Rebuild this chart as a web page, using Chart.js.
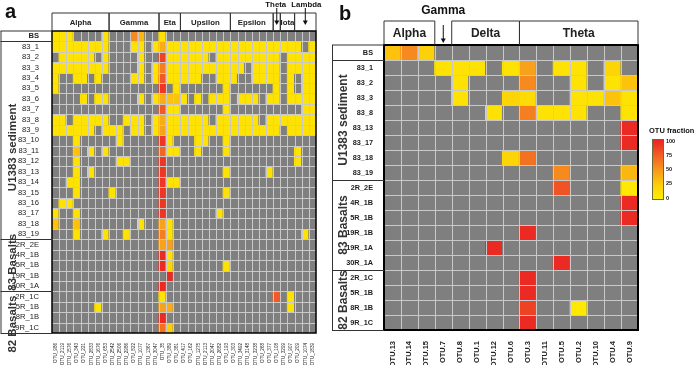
<!DOCTYPE html>
<html><head><meta charset="utf-8">
<script src="https://cdn.jsdelivr.net/npm/chart.js@4/dist/chart.umd.min.js"></script>
<style>
html,body{margin:0;padding:0;background:#fff;width:696px;height:365px;overflow:hidden;}
canvas{position:absolute;left:0;top:0;}
</style></head><body>
<canvas id="ca" width="696" height="365"></canvas>
<canvas id="cb" width="696" height="365"></canvas>
<script>
const _ = null;

// ---------- Panel a ----------
const otuA = ['OTU_986','OTU_2119','OTU_1576','OTU_343','OTU_221','OTU_2833','OTU_1676','OTU_653','OTU_2542','OTU_2506','OTU_2986','OTU_822','OTU_1077','OTU_1367','OTU_3047','OTU_35','OTU_389','OTU_381','OTU_417','OTU_162','OTU_1275','OTU_2113','OTU_2047','OTU_2682','OTU_193','OTU_303','OTU_3492','OTU_3148','OTU_3238','OTU_268','OTU_377','OTU_108','OTU_3299','OTU_907','OTU_209','OTU_1074','OTU_1839'];
const samplesA = ['BS','83_1','83_2','83_3','83_4','83_5','83_6','83_7','83_8','83_9','83_10','83_11','83_12','83_13','83_14','83_15','83_16','83_17','83_18','83_19','2R_2E','4R_1B','5R_1B','19R_1B','30R_1A','2R_1C','5R_1B','8R_1B','9R_1C'];
const cladesA = ['Alpha','Gamma','Eta','Upsilon','Epsilon','Theta','Iota','Lambda'];
const cladeSizesA = [8,7,3,7,6,1,2,3];
const cladeTextA = [true,true,true,true,true,false,true,false];
const arrowCladesA = ['Theta','Lambda'];
const siteGroupsA = ['','U1383 sediment','83 Basalts','82 Basalts'];
const siteSizesA = [1,19,5,4];

const a_BS   = [10,10,10,_,_,_,_,10, _,_,_,55,35,_,_, 10,_,_, _,_,_,_,_,_,_, _,_,_,_,_,_, _, _,_, _,_,_];
const a_83_1 = [10,10,10,10,10,10,10,10, _,_,_,10,10,_,10, 40,10,10, 10,10,10,10,10,10,10, 10,10,10,10,10,10, 10, 10,10, 10,_,10];
const a_83_2 = [_,10,10,10,10,10,_,10, _,_,_,_,10,_,_, 85,10,10, 10,10,10,10,_,10,10, 10,10,10,10,10,10, 10, _,10, 10,10,10];
const a_83_3 = [10,10,10,10,10,10,10,10, _,_,_,_,10,_,10, 60,10,10, 10,10,10,10,10,10,10, 10,10,_,10,10,10, 10, _,10, 10,10,10];
const a_83_4 = [10,_,_,10,10,_,10,_, _,_,_,10,10,_,10, 75,10,10, 10,10,10,_,_,10,10, 10,_,_,10,10,10, 10, _,10, _,10,10];
const a_83_5 = [10,_,_,_,_,_,_,_, _,_,_,_,_,_,_, 90,_,10, _,_,_,_,_,_,10, _,_,_,_,_,_, 10, _,10, _,10,10];
const a_83_6 = [_,_,_,_,10,_,10,10, _,_,_,_,10,_,10, 40,30,30, 10,_,10,_,10,10,10, _,10,10,10,_,10, 10, _,10, 10,10,10];
const a_83_7 = [_,_,_,_,_,_,_,_, _,_,_,_,_,_,_, 75,10,10, _,_,_,_,_,_,10, _,_,_,_,_,_, _, _,_, _,10,10];
const a_83_8 = [10,10,_,10,10,10,10,10, _,_,10,10,10,_,10, 40,10,10, 10,10,10,10,_,10,10, 10,10,10,10,_,10, 10, 10,10, 10,10,10];
const a_83_9 = [10,10,10,10,10,10,_,10, 10,10,_,10,10,_,10, 45,10,10, 10,10,10,10,10,10,10, 10,10,10,10,10,10, 10, _,10, 10,10,10];
const a_83_10 = [_,_,_,10,_,_,_,_, _,10,_,_,_,_,_, 90,10,_, _,_,10,10,_,_,10, _,_,_,_,_,_, _, _,_, _,_,_];
const a_83_11 = [_,_,_,30,_,10,_,10, _,_,_,_,_,_,_, 70,10,10, _,_,10,_,_,_,10, _,_,_,_,_,_, _, _,_, 10,_,_];
const a_83_12 = [_,_,_,10,_,_,_,_, _,10,10,_,_,_,_, 90,_,_, _,_,_,_,_,_,_, _,_,_,_,_,_, _, _,_, 10,_,_];
const a_83_13 = [_,_,_,10,_,10,_,_, _,_,_,_,_,_,_, 90,_,_, _,_,_,_,_,_,10, _,_,_,_,_,10, _, _,_, _,_,_];
const a_83_14 = [_,_,10,10,_,_,_,_, _,_,_,_,_,_,_, 90,10,10, _,_,_,_,_,_,_, _,_,_,_,_,_, _, _,_, _,_,_];
const a_83_15 = [_,_,_,10,_,_,_,_, 10,_,_,_,_,_,_, 90,_,_, _,_,_,_,_,_,10, _,_,_,_,_,_, _, _,_, _,_,_];
const a_83_16 = [_,10,10,_,_,_,_,_, _,_,_,_,_,_,_, 90,_,_, _,_,_,_,_,_,_, _,_,_,_,_,_, _, _,_, _,_,_];
const a_83_17 = [10,_,_,10,_,_,_,_, _,_,_,_,_,_,_, 90,_,_, _,_,_,_,_,10,_, _,_,_,_,_,_, _, _,_, _,_,_];
const a_83_18 = [30,_,_,30,_,_,_,_, _,_,_,_,10,_,_, 45,10,_, _,_,_,_,_,_,_, _,_,_,_,_,_, _, _,_, _,_,_];
const a_83_19 = [_,_,_,10,_,_,_,10, _,_,10,_,_,_,_, 60,10,_, _,_,_,_,_,_,_, _,_,_,_,_,_, _, _,_, _,10,_];
const a_2R_2E = [_,_,_,_,_,_,_,_, _,_,_,_,_,_,_, 45,45,_, _,_,_,_,_,_,_, _,_,_,_,_,_, _, _,_, _,_,_];
const a_4R_1B = [_,_,_,_,_,_,_,_, _,_,_,_,_,_,_, 95,10,_, _,_,_,_,_,_,_, _,_,_,_,_,_, _, _,_, _,_,_];
const a_5R_1B = [_,_,_,_,_,_,_,_, _,_,_,_,_,_,_, 95,20,_, _,_,_,_,_,_,10, _,_,_,_,_,_, _, _,_, _,_,_];
const a_19R_1B = [_,_,_,_,_,_,_,_, _,_,_,_,_,_,_, _,95,_, _,_,_,_,_,_,_, _,_,_,_,_,_, _, _,_, _,_,_];
const a_30R_1A = [_,_,_,_,_,_,_,_, _,_,_,_,_,_,_, 95,_,_, _,_,_,_,_,_,_, _,_,_,_,_,_, _, _,_, _,_,_];
const a_2R_1C = [_,_,_,_,_,_,_,_, _,_,_,_,_,_,_, 10,_,_, _,_,_,_,_,_,_, _,_,_,_,_,_, 75, _,10, _,_,_];
const a_5R_1B2 = [_,_,_,_,_,_,10,_, _,_,_,_,_,_,_, 45,40,_, _,_,_,_,_,_,_, _,_,_,_,_,_, _, _,10, _,_,_];
const a_8R_1B = [_,_,_,_,_,_,_,_, _,_,_,_,_,_,_, 95,_,_, _,_,_,_,_,_,_, _,_,_,_,_,_, _, _,_, _,_,_];
const a_9R_1C = [_,_,_,_,_,_,_,_, _,_,_,_,_,_,_, 65,25,_, _,_,_,_,_,_,_, _,_,_,_,_,_, _, _,_, _,_,_];
const valuesA = [a_BS,a_83_1,a_83_2,a_83_3,a_83_4,a_83_5,a_83_6,a_83_7,a_83_8,a_83_9,a_83_10,a_83_11,a_83_12,a_83_13,a_83_14,a_83_15,a_83_16,a_83_17,a_83_18,a_83_19,a_2R_2E,a_4R_1B,a_5R_1B,a_19R_1B,a_30R_1A,a_2R_1C,a_5R_1B2,a_8R_1B,a_9R_1C];

// ---------- Panel b ----------
const otuB = ['OTU.13','OTU.14','OTU.15','OTU.7','OTU.8','OTU.1','OTU.12','OTU.6','OTU.3','OTU.11','OTU.5','OTU.2','OTU.10','OTU.4','OTU.9'];
const samplesB = ['BS','83_1','83_2','83_3','83_8','83_13','83_17','83_18','83_19','2R_2E','4R_1B','5R_1B','19R_1B','19R_1A','30R_1A','2R_1C','5R_1B','8R_1B','9R_1C'];
const cladesB = ['Alpha','Gamma','Delta','Theta'];
const cladeSizesB = [3,1,4,7];
const siteGroupsB = ['BS','U1383 sediment','83 Basalts','82 Basalts'];
const siteSizesB = [1,8,6,4];

const b_BS    = [30,55,22,_,_,_,_,_,_,_,_,_,_,_,_];
const b_83_1  = [_,_,_,10,10,10,_,10,45,_,10,10,_,20,_];
const b_83_2  = [_,_,_,_,10,_,_,_,55,_,_,10,_,10,30];
const b_83_3  = [_,_,_,_,10,_,_,20,15,_,_,10,10,30,10];
const b_83_8  = [_,_,_,_,_,_,10,_,60,10,10,10,_,_,10];
const b_83_13 = [_,_,_,_,_,_,_,_,_,_,_,_,_,_,95];
const b_83_17 = [_,_,_,_,_,_,_,_,_,_,_,_,_,_,95];
const b_83_18 = [_,_,_,_,_,_,_,20,65,_,_,_,_,_,_];
const b_83_19 = [_,_,_,_,_,_,_,_,_,_,55,_,_,_,35];
const b_2R_2E = [_,_,_,_,_,_,_,_,_,_,78,_,_,_,5];
const b_4R_1B = [_,_,_,_,_,_,_,_,_,_,_,_,_,_,95];
const b_5R_1B = [_,_,_,_,_,_,_,_,_,_,_,_,_,_,95];
const b_19R_1B = [_,_,_,_,_,_,_,_,95,_,_,_,_,_,_];
const b_19R_1A = [_,_,_,_,_,_,95,_,_,_,_,_,_,_,_];
const b_30R_1A = [_,_,_,_,_,_,_,_,_,_,95,_,_,_,_];
const b_2R_1C = [_,_,_,_,_,_,_,_,95,_,_,_,_,_,_];
const b_5R_1B2 = [_,_,_,_,_,_,_,_,95,_,_,_,_,_,_];
const b_8R_1B = [_,_,_,_,_,_,_,_,85,_,_,5,_,_,_];
const b_9R_1C = [_,_,_,_,_,_,_,_,95,_,_,_,_,_,_];
const valuesB = [b_BS,b_83_1,b_83_2,b_83_3,b_83_8,b_83_13,b_83_17,b_83_18,b_83_19,b_2R_2E,b_4R_1B,b_5R_1B,b_19R_1B,b_19R_1A,b_30R_1A,b_2R_1C,b_5R_1B2,b_8R_1B,b_9R_1C];

const legendTicks = [100,75,50,25,0];

// ---------- helpers ----------
const GRAY = '#7f7f7f';
const stops = [[0,[255,240,0]],[25,[253,205,8]],[50,[247,150,30]],[75,[241,90,36]],[100,[234,30,36]]];
function colorFor(v){
  if (v === null || v === undefined) return GRAY;
  for (let i=1;i<stops.length;i++){
    if (v <= stops[i][0]){
      const [v0,c0]=stops[i-1],[v1,c1]=stops[i];
      const t=(v-v0)/(v1-v0);
      return 'rgb('+c0.map((c,k)=>Math.round(c+(c1[k]-c)*t)).join(',')+')';
    }
  }
  return 'rgb('+stops[stops.length-1][1].join(',')+')';
}
const FONT = 'Arial, "Liberation Sans", Helvetica, sans-serif';

function colEdge(x, i){ return x.getPixelForValue(i - 0.5); }
function rowEdge(y, r){ return y.getPixelForValue(r - 0.5); }

const gridPlugin = {
  id:'cellgrid',
  afterDatasetsDraw(chart, args, o){
    const {ctx, chartArea:ca, scales:{x,y}} = chart;
    ctx.save();
    ctx.strokeStyle = o.color; ctx.lineWidth = o.width;
    ctx.beginPath();
    for (let i=1;i<x.getLabels().length;i++){ const px=Math.round(colEdge(x,i))+0.5; ctx.moveTo(px,ca.top); ctx.lineTo(px,ca.bottom); }
    for (let r=1;r<o.rows;r++){ const py=Math.round(rowEdge(y,r))+0.5; ctx.moveTo(ca.left,py); ctx.lineTo(ca.right,py); }
    ctx.stroke();
    ctx.lineWidth = o.frame; ctx.strokeStyle = '#000';
    ctx.strokeRect(ca.left, ca.top, ca.right-ca.left, ca.bottom-ca.top);
    ctx.restore();
  }
};

function arrow(ctx, x, y0, y1){
  ctx.beginPath(); ctx.moveTo(x,y0); ctx.lineTo(x,y1-3); ctx.stroke();
  ctx.beginPath(); ctx.moveTo(x-2.5,y1-4.5); ctx.lineTo(x+2.5,y1-4.5); ctx.lineTo(x,y1); ctx.closePath(); ctx.fill();
}

function heatConfig(labels, samples, values, opt){
  const datasets = values.map((vals, r) => ({
    label: samples[r],
    data: vals.map(() => [r - 0.5, r + 0.5]),
    backgroundColor: vals.map(colorFor),
    borderWidth: 0,
    grouped: false,
    barPercentage: 1,
    categoryPercentage: 1,
    inflateAmount: 0.6
  }));
  return {
    type:'bar',
    data:{labels, datasets},
    options:{
      responsive:false, animation:false, events:[],
      layout:{padding:opt.padding},
      plugins:{legend:{display:false}, tooltip:{enabled:false}, cellgrid:{color:'#c9c9c9', width:1, rows:samples.length, frame:opt.frame}, deco:opt.deco},
      scales:{
        x:{type:'category', offset:true, position:'bottom',
           grid:{display:false}, border:{display:false},
           ticks:{autoSkip:false, maxRotation:90, minRotation:90, padding:opt.xPad, color:'#222', font:{family:FONT, size:opt.xFont, weight:opt.xWeight}},
           afterFit(s){ s.height = opt.xHeight; s.paddingLeft=0; s.paddingRight=0; }},
        y:{type:'linear', min:-0.5, max:samples.length-0.5, reverse:true,
           afterBuildTicks(s){ s.ticks = samples.map((_n,i)=>({value:i})); },
           grid:{display:false}, border:{display:false},
           ticks:{autoSkip:false, padding:opt.yPad, color:'#222', callback:(v)=>samples[v],
                  font:(c)=>({family:FONT, size:opt.yFont, weight:(c.index===0||opt.yBold)?'bold':'normal'})},
           afterFit(s){ s.width = opt.yWidth; s.paddingTop=0; s.paddingBottom=0; }}
      }
    },
    plugins:[gridPlugin, decoPlugin]
  };
}

const decoPlugin = {
  id:'deco',
  afterDraw(chart, args, o){
    const {ctx, chartArea:ca, scales:{x,y}} = chart;
    ctx.save();
    ctx.strokeStyle = '#333'; ctx.fillStyle = '#222'; ctx.lineWidth = 1;
    let start = 0;
    o.clades.forEach((name, gi) => {
      const n = o.sizes[gi];
      const x0 = colEdge(x, start), x1 = colEdge(x, start + n);
      const xc = (x0 + x1) / 2;
      if (o.boxes[gi]) {
        ctx.beginPath();
        ctx.moveTo(x0, ca.top); ctx.lineTo(x0, o.hTop); ctx.lineTo(x1, o.hTop); ctx.lineTo(x1, ca.top);
        ctx.stroke();
      }
      if (o.text[gi]) {
        ctx.font = o.hFont; ctx.textAlign='center'; ctx.textBaseline='middle';
        ctx.fillText(name, xc, o.hTextY);
      }
      if (o.arrows.includes(name)) {
        ctx.fillStyle='#111'; ctx.strokeStyle='#111';
        arrow(ctx, xc, o.arrowY0, o.arrowY1);
        ctx.font = o.aFont; ctx.textAlign='center'; ctx.textBaseline='middle';
        ctx.fillText(name, xc + (o.aShift[name]||0), o.aTextY);
        ctx.fillStyle='#222'; ctx.strokeStyle='#333';
      }
      start += n;
    });
    let r0 = 0;
    ctx.strokeStyle = '#333'; ctx.lineWidth = 1;
    ctx.beginPath();
    ctx.moveTo(o.sLeft, rowEdge(y,0)); ctx.lineTo(ca.left, rowEdge(y,0));
    ctx.moveTo(o.sLeft + 0.5, rowEdge(y,0)); ctx.lineTo(o.sLeft + 0.5, ca.bottom);
    o.sites.forEach((name, gi) => {
      const n = o.siteSizes[gi];
      const yb = rowEdge(y, r0 + n);
      ctx.moveTo(o.sLeft, Math.round(yb)+0.5); ctx.lineTo(ca.left, Math.round(yb)+0.5);
      r0 += n;
    });
    ctx.stroke();
    r0 = 0;
    o.sites.forEach((name, gi) => {
      const n = o.siteSizes[gi];
      if (name && gi > 0) {
        const yc = (rowEdge(y, r0) + rowEdge(y, r0 + n)) / 2 + (o.sShift[gi]||0);
        ctx.save(); ctx.translate(o.sTextX, yc); ctx.rotate(-Math.PI/2);
        ctx.font = o.sFont; ctx.fillStyle='#333'; ctx.textAlign='center'; ctx.textBaseline='middle';
        ctx.fillText(name, 0, 0); ctx.restore();
      }
      r0 += n;
    });
    ctx.font = 'bold 20px ' + FONT; ctx.fillStyle='#111'; ctx.textAlign='left'; ctx.textBaseline='alphabetic';
    ctx.fillText(o.letter, o.letterX, o.letterY);
    if (o.legend) {
      const L = o.legend;
      const g = ctx.createLinearGradient(0, L.y0, 0, L.y1);
      legendTicks.forEach(v => g.addColorStop(1 - v/100, colorFor(v)));
      ctx.fillStyle = g; ctx.fillRect(L.x, L.y0, L.w, L.y1 - L.y0);
      ctx.strokeStyle = '#6b6b3a'; ctx.lineWidth = 1; ctx.strokeRect(L.x+0.5, L.y0+0.5, L.w-1, L.y1-L.y0-1);
      ctx.fillStyle = '#111'; ctx.font = 'bold 7.5px ' + FONT; ctx.textAlign='left'; ctx.textBaseline='middle';
      ctx.fillText('OTU fraction', L.titleX, L.titleY);
      ctx.font = 'bold 5.5px ' + FONT;
      legendTicks.forEach(v => {
        const yy = L.y0 + 2 + (L.y1 - L.y0 - 4) * (1 - v/100);
        ctx.fillText(String(v), L.x + L.w + 2, yy);
      });
    }
    ctx.restore();
  }
};

new Chart(document.getElementById('ca'), heatConfig(otuA, samplesA, valuesA, {
  padding:{left:0, top:31, right:380, bottom:0},
  frame:1.5, xPad:2, xFont:4.6, xWeight:'normal', xHeight:32, yPad:5, yFont:7.6, yBold:false, yWidth:52,
  deco:{clades:cladesA, sizes:cladeSizesA, boxes:cladesA.map(()=>true), text:cladeTextA, arrows:arrowCladesA,
        hTop:13, hTextY:22.5, hFont:'bold 7.8px '+FONT, arrowY0:8, arrowY1:25, aFont:'bold 7.8px '+FONT, aTextY:4.5, aShift:{Theta:-1, Lambda:1},
        sites:siteGroupsA, siteSizes:siteSizesA, sLeft:0.5, sTextX:13, sFont:'bold 11.5px '+FONT, sShift:{1:7,2:-3,3:12},
        letter:'a', letterX:5, letterY:18}
}));

new Chart(document.getElementById('cb'), heatConfig(otuB, samplesB, valuesB, {
  padding:{left:334, top:45, right:58, bottom:0},
  frame:2, xPad:3, xFont:7.5, xWeight:'bold', xHeight:35, yPad:3, yFont:7.3, yBold:true, yWidth:50,
  deco:{clades:cladesB, sizes:cladeSizesB, boxes:[true,false,true,true], text:[true,false,true,true], arrows:['Gamma'],
        hTop:21, hTextY:33.5, hFont:'bold 12px '+FONT, arrowY0:25, arrowY1:43, aFont:'bold 12px '+FONT, aTextY:11, aShift:{},
        sites:siteGroupsB, siteSizes:siteSizesB, sLeft:332, sTextX:343.5, sFont:'bold 12px '+FONT, sShift:{},
        letter:'b', letterX:339, letterY:20,
        legend:{x:652, w:12, y0:139, y1:200, titleX:649, titleY:131}}
}));
</script>
</body></html>
